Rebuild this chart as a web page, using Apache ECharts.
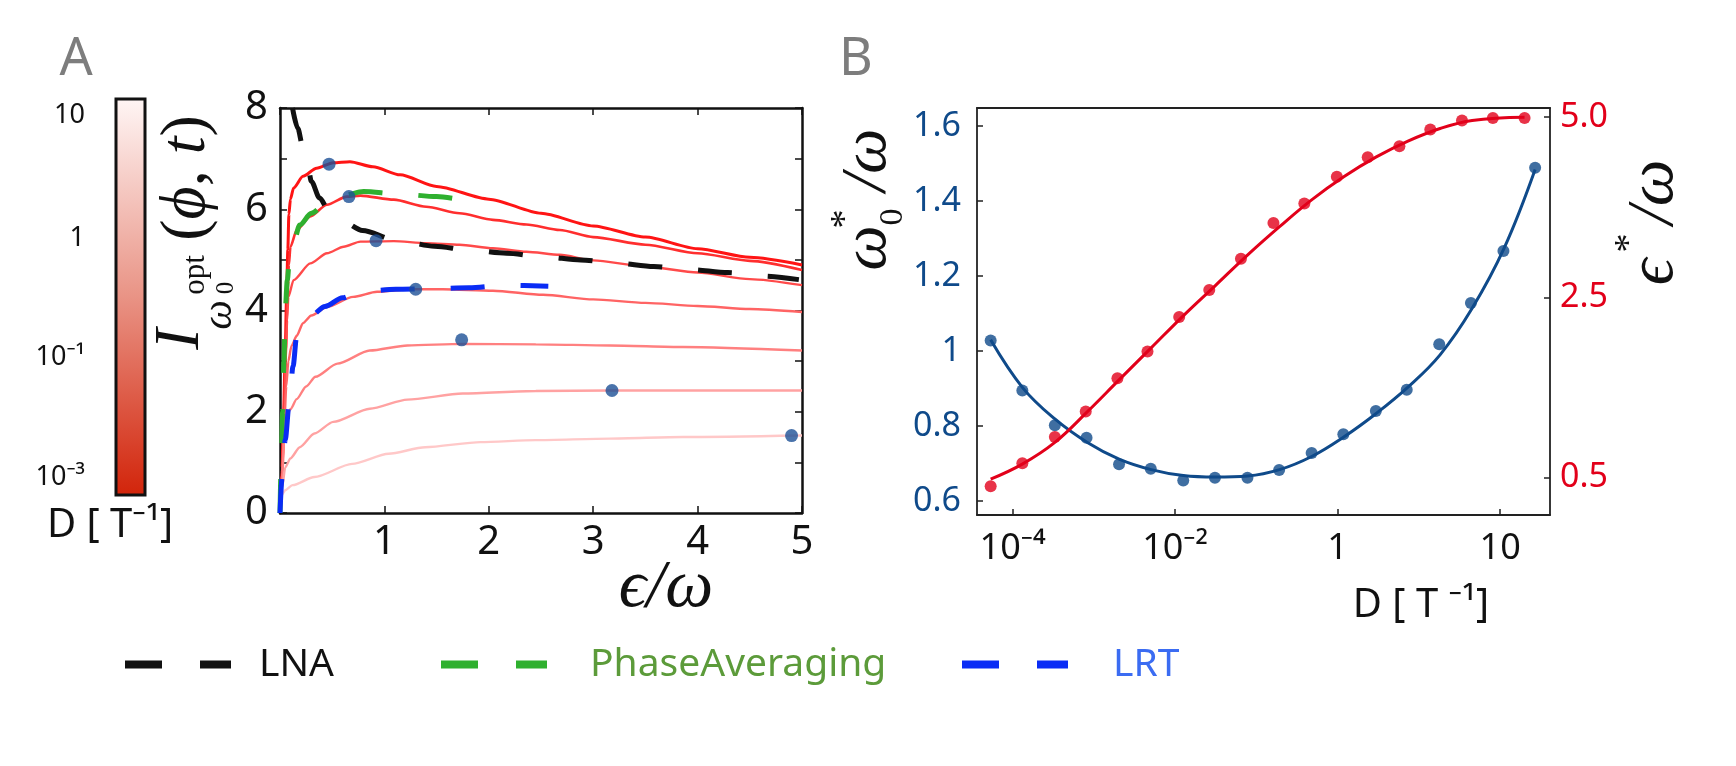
<!DOCTYPE html>
<html>
<head>
<meta charset="utf-8">
<script src="https://cdn.jsdelivr.net/npm/echarts@6/dist/echarts.min.js"></script>
<style>
  html, body { margin: 0; padding: 0; background: #fff; }
  #chart { width: 1736px; height: 766px; }
</style>
</head>
<body>
<div id="chart"></div>
<script>
// ---- panel A : I(phi,t) against eps/omega, one curve per noise level D ----
const curve1 = [[0,0],[0.02,0.9],[0.035,2.0],[0.05,3.2],[0.062,4.2],[0.075,5.2],[0.085,5.9],[0.1,6.2],[0.13,6.42],[0.22,6.65],[0.35,6.81],[0.51,6.92],[0.67,6.94],[0.89,6.84],[1.15,6.68],[1.5,6.45],[2.0,6.2],[2.5,5.92],[3.0,5.67],[3.5,5.45],[4.0,5.22],[4.5,5.05],[5.0,4.9]];
const curve2 = [[0,0],[0.02,0.8],[0.04,2.0],[0.055,3.2],[0.07,4.2],[0.085,4.9],[0.1,5.26],[0.16,5.59],[0.29,5.86],[0.45,6.09],[0.64,6.25],[0.77,6.27],[1.09,6.19],[1.4,6.05],[1.72,5.92],[2.04,5.79],[2.36,5.7],[2.68,5.59],[3.0,5.45],[3.5,5.3],[4.0,5.13],[4.5,4.98],[5.0,4.8]];
const curve3 = [[0,0],[0.02,0.8],[0.04,1.9],[0.055,3.0],[0.068,3.8],[0.08,4.27],[0.13,4.6],[0.29,4.93],[0.45,5.13],[0.61,5.26],[0.77,5.36],[1.09,5.37],[1.4,5.33],[1.72,5.3],[2.04,5.23],[2.36,5.16],[2.68,5.1],[3.0,4.99],[3.5,4.87],[4.0,4.75],[4.5,4.62],[5.0,4.5]];
const curve4 = [[0,0],[0.02,0.8],[0.04,1.7],[0.06,2.5],[0.08,3.0],[0.11,3.3],[0.16,3.5],[0.22,3.75],[0.3,3.9],[0.45,4.07],[0.7,4.27],[0.93,4.37],[1.25,4.42],[1.56,4.42],[2.04,4.39],[2.52,4.31],[3.0,4.22],[3.5,4.15],[4.0,4.09],[4.5,4.03],[5.0,3.97]];
const curve5 = [[0,0],[0.02,0.7],[0.05,1.85],[0.1,2.05],[0.16,2.25],[0.25,2.5],[0.34,2.69],[0.55,2.95],[0.86,3.21],[1.22,3.31],[1.75,3.34],[2.45,3.33],[3.16,3.31],[3.86,3.28],[5.0,3.21]];
const curve6 = [[0,0],[0.02,0.5],[0.05,0.9],[0.1,1.08],[0.19,1.3],[0.33,1.57],[0.51,1.8],[0.86,2.06],[1.22,2.24],[1.75,2.36],[2.45,2.41],[3.16,2.42],[3.86,2.42],[5.0,2.42]];
const curve7 = [[0,0],[0.015,0.35],[0.05,0.45],[0.12,0.55],[0.33,0.71],[0.69,0.97],[1.04,1.17],[1.39,1.3],[1.92,1.4],[2.45,1.44],[3.16,1.47],[3.86,1.5],[5.0,1.53]];
const optimumDots = [[0.47,6.89],[0.66,6.25],[0.92,5.38],[1.3,4.42],[1.74,3.42],[3.18,2.42],[4.9,1.53]];

const lnaCurve = [[0.12,8.0],[0.17,7.6],[0.22,7.22],[0.27,6.82],[0.3,6.55],[0.38,6.22],[0.47,5.96],[0.6,5.76],[0.79,5.58],[1.11,5.39],[1.48,5.27],[1.82,5.19],[2.17,5.13],[2.52,5.06],[2.88,5.0],[3.21,4.94],[3.58,4.87],[3.92,4.81],[4.29,4.75],[4.62,4.68],[4.97,4.61]];
const phaseAvgCurve = [[0,0],[0.012,1.0],[0.025,2.0],[0.038,3.0],[0.05,4.0],[0.07,4.6],[0.09,5.0],[0.13,5.35],[0.19,5.69],[0.3,5.92],[0.46,6.15],[0.6,6.27],[0.8,6.35],[1.14,6.3],[1.5,6.25],[1.85,6.14]];
const lrtCurve = [[0,0],[0.02,0.7],[0.05,1.45],[0.09,2.2],[0.125,2.9],[0.16,3.5],[0.22,3.75],[0.3,3.9],[0.43,4.08],[0.6,4.25],[0.75,4.37],[1.11,4.42],[1.45,4.43],[1.81,4.45],[2.16,4.5],[2.57,4.48]];

const epsTicksA = [0, 1, 2, 3, 4, 5];
const colorbarLabels = ['10', '1', '10⁻¹', '10⁻³'];

// ---- panel B : optimum omega0* and eps* against D ----
// x is the position on the printed D axis (ticks 10^-4, 10^-2, 1, 10 are evenly spaced)
const dTickPos = [-4, -2, 0, 2];
const dTickLabels = ['10⁻⁴', '10⁻²', '1', '10'];
const omegaTicks = [0.6, 0.8, 1.0, 1.2, 1.4, 1.6];
// right axis: evenly spaced printed ticks 0.5, 2.5, 5.0 at positions 0, 1, 2
const epsTickPos = [0, 1, 2];
const epsTickLabels = ['0.5', '2.5', '5.0'];

const omegaDotD = [-4.27,-3.88,-3.48,-3.09,-2.69,-2.30,-1.90,-1.51,-1.11,-0.72,-0.32,0.07,0.47,0.85,1.25,1.64,2.04,2.43];
const omegaDots = [1.028,0.895,0.802,0.769,0.698,0.686,0.655,0.662,0.662,0.683,0.728,0.778,0.840,0.897,1.018,1.128,1.267,1.489];
const omegaFitD = [-4.27,-3.875,-3.48,-3.085,-2.69,-2.295,-1.90,-1.505,-1.11,-0.715,-0.32,0.075,0.47,0.865,1.26,1.655,2.05,2.43];
const omegaFit = [1.030,0.902,0.819,0.757,0.712,0.684,0.668,0.664,0.667,0.684,0.719,0.771,0.833,0.904,0.990,1.114,1.275,1.484];

const epsDotD = [-4.27,-3.88,-3.48,-3.10,-2.71,-2.34,-1.95,-1.58,-1.19,-0.79,-0.41,-0.01,0.37,0.76,1.14,1.53,1.91,2.30];
const epsDots = [-0.05,0.079,0.224,0.366,0.55,0.699,0.891,1.04,1.214,1.412,1.521,1.669,1.778,1.838,1.931,1.982,1.996,1.996];
const epsFitD = [-4.27,-3.875,-3.48,-3.085,-2.69,-2.295,-1.90,-1.505,-1.11,-0.715,-0.32,0.075,0.47,0.865,1.26,1.655,2.30];
const epsFit = [-0.010,0.075,0.194,0.362,0.541,0.719,0.897,1.065,1.234,1.392,1.541,1.669,1.778,1.867,1.937,1.982,2.0];

const pairs = (xs, ys) => xs.map((x, i) => [x, ys[i]]);

const SANS = '"Noto Sans", "Open Sans", sans-serif';
const SERIF = '"Liberation Serif", "DejaVu Serif", serif';
const INK = '#111';
const BLUE_B = '#0f4a8a';
const RED_B = '#e2001a';

const redColors = ['#ff1414', '#ff2e2e', '#ff4a4a', '#ff6464', '#ff8080', '#ffa2a2', '#ffc8c8'];
const redWidths = [3, 2.6, 2.4, 2.4, 2.4, 2.4, 2.4];
const redCurves = [curve1, curve2, curve3, curve4, curve5, curve6, curve7];

function txt(x, y, text, size, color, o = {}) {
  return {
    type: 'text', x, y, rotation: o.rot || 0, z: 20,
    style: {
      text, fill: color,
      font: (o.italic ? 'italic ' : '') + size + 'px ' + (o.family || SANS),
      align: o.align || 'center', verticalAlign: 'middle',
      textAlign: o.align || 'center', textVerticalAlign: 'middle',
      rich: o.rich
    }
  };
}
const V = Math.PI / 2;

const chart = echarts.init(document.getElementById('chart'));

const frameA = { show: true, onZero: false, lineStyle: { color: INK, width: 2.5 } };
const tickA = { show: true, inside: true, length: 7, lineStyle: { color: INK, width: 1.5 } };
const frameB = { show: true, onZero: false, lineStyle: { color: '#222', width: 1.8 } };
const tickB = { show: true, inside: true, length: 6, lineStyle: { color: '#222', width: 1.5 } };

const series = [];
redCurves.forEach((c, i) => {
  series.push({
    type: 'line', xAxisIndex: 0, yAxisIndex: 0, data: c, showSymbol: false,
    smooth: 0.25, smoothMonotone: 'x', z: 2, silent: true,
    lineStyle: { color: redColors[i], width: redWidths[i] }
  });
});
const dashed = (name, data, color) => ({
  name, type: 'line', xAxisIndex: 0, yAxisIndex: 0, data, showSymbol: false,
  smooth: 0.3, smoothMonotone: 'x', z: 3, color,
  lineStyle: { color, width: 5, type: [34, 36], cap: 'butt' }
});
series.push(dashed('LNA', lnaCurve, '#111111'));
series.push(dashed('PhaseAveraging', phaseAvgCurve, '#2fb02f'));
series.push(dashed('LRT', lrtCurve, '#0a2cf5'));
series.push({
  type: 'scatter', xAxisIndex: 0, yAxisIndex: 0, data: optimumDots,
  symbolSize: 13, z: 5, itemStyle: { color: '#1d5096' }
});
// panel B
series.push({
  type: 'line', xAxisIndex: 2, yAxisIndex: 2, data: pairs(omegaFitD, omegaFit),
  showSymbol: false, smooth: 0.4, z: 3, lineStyle: { color: BLUE_B, width: 3 }
});
series.push({
  type: 'scatter', xAxisIndex: 2, yAxisIndex: 2, data: pairs(omegaDotD, omegaDots),
  symbolSize: 12, z: 4, itemStyle: { color: BLUE_B }
});
series.push({
  type: 'line', xAxisIndex: 2, yAxisIndex: 3, data: pairs(epsFitD, epsFit),
  showSymbol: false, smooth: 0.4, z: 3, lineStyle: { color: RED_B, width: 3 }
});
series.push({
  type: 'scatter', xAxisIndex: 2, yAxisIndex: 3, data: pairs(epsDotD, epsDots),
  symbolSize: 12, z: 4, itemStyle: { color: RED_B }
});

const legendIcon = 'path://M0,0H37V8H0Z M75,0H106V8H75Z';
const legendItem = (name, color, left, gap) => ({
  data: [{ name, textStyle: { color } }],
  left, top: 640, icon: legendIcon, itemWidth: 106, itemHeight: 8,
  selectedMode: false,
  textStyle: { fontSize: 39, fontFamily: SANS, padding: [0, 0, 0, gap] }
});

const cbLabelY = [115, 238, 357, 477];

chart.setOption({
  animation: false,
  grid: [
    { left: 280, top: 108, width: 522, height: 405 },
    { left: 977, top: 108, width: 573, height: 407 }
  ],
  xAxis: [
    {
      gridIndex: 0, type: 'value', min: 0, max: 5, interval: 1, position: 'bottom',
      axisLine: frameA, axisTick: tickA, splitLine: { show: false },
      axisLabel: { formatter: v => (v === epsTicksA[0] ? '' : String(v)), fontSize: 40, fontFamily: SANS, color: INK, margin: 10 }
    },
    {
      gridIndex: 0, type: 'value', min: 0, max: 5, interval: 1, position: 'top',
      axisLine: frameA, axisTick: tickA, splitLine: { show: false }, axisLabel: { show: false }
    },
    {
      gridIndex: 1, type: 'value', min: -4.438, max: 2.613, position: 'bottom',
      axisLine: frameB, splitLine: { show: false },
      axisTick: Object.assign({ customValues: dTickPos }, tickB),
      axisLabel: {
        customValues: dTickPos, formatter: v => dTickLabels[dTickPos.indexOf(v)],
        fontSize: 36, fontFamily: SANS, color: INK, margin: 16
      }
    },
    {
      gridIndex: 1, type: 'value', min: -4.438, max: 2.613, position: 'top',
      axisLine: frameB, axisTick: { show: false }, axisLabel: { show: false }, splitLine: { show: false }
    }
  ],
  yAxis: [
    {
      gridIndex: 0, type: 'value', min: 0, max: 8, interval: 1, position: 'left',
      axisLine: frameA, axisTick: tickA, splitLine: { show: false },
      axisLabel: { formatter: v => (v % 2 === 0 ? String(v) : ''), fontSize: 40, fontFamily: SANS, color: INK, margin: 12 }
    },
    {
      gridIndex: 0, type: 'value', min: 0, max: 8, interval: 1, position: 'right',
      axisLine: frameA, axisTick: tickA, splitLine: { show: false }, axisLabel: { show: false }
    },
    {
      gridIndex: 1, type: 'value', min: 0.563, max: 1.648, position: 'left',
      axisLine: frameB, splitLine: { show: false },
      axisTick: Object.assign({ customValues: omegaTicks }, tickB),
      axisLabel: {
        customValues: omegaTicks, formatter: v => (v === 1 ? '1' : v.toFixed(1)),
        fontSize: 34, fontFamily: SANS, color: BLUE_B, margin: 16
      }
    },
    {
      gridIndex: 1, type: 'value', min: -0.209, max: 2.051, position: 'right',
      axisLine: frameB, splitLine: { show: false },
      axisTick: Object.assign({ customValues: epsTickPos }, tickB),
      axisLabel: {
        customValues: epsTickPos, formatter: v => epsTickLabels[epsTickPos.indexOf(v)],
        fontSize: 34, fontFamily: SANS, color: RED_B, margin: 10
      }
    }
  ],
  legend: [
    legendItem('LNA', '#111111', 120, 23),
    legendItem('PhaseAveraging', '#5c9b3a', 436, 38),
    legendItem('LRT', '#3b6cf2', 957, 40)
  ],
  series,
  graphic: [
    txt(76, 60, 'A', 52, '#7d7d7d'),
    txt(856, 60, 'B', 52, '#7d7d7d'),
    // colour bar for D
    {
      type: 'rect', z: 20,
      shape: { x: 116, y: 99, width: 29, height: 396 },
      style: {
        fill: new echarts.graphic.LinearGradient(0, 0, 0, 1, [
          { offset: 0, color: '#fff6f5' },
          { offset: 0.5, color: '#e99385' },
          { offset: 1, color: '#d2240a' }
        ]),
        stroke: INK, lineWidth: 3
      }
    },
    ...colorbarLabels.map((t, i) => txt(85, cbLabelY[i], t, 27, INK, { align: 'right' })),
    txt(110, 526, 'D [ T⁻¹]', 40, INK),
    // y title of panel A
    txt(181, 339, 'I', 64, INK, { rot: V, italic: true, family: SERIF }),
    txt(196, 275, 'opt', 31, INK, { rot: V, family: SERIF }),
    txt(220, 315, 'ω', 42, INK, { rot: V, italic: true, family: SERIF }),
    txt(226, 288, '0', 25, INK, { rot: V, family: SERIF }),
    txt(187, 178, '{n|(}{i|ϕ}{n|, }{i|t}{n|)}', 64, INK, {
      rot: V, family: SERIF,
      rich: {
        n: { fontSize: 64, fontFamily: SERIF, fontStyle: 'normal', fill: INK },
        i: { fontSize: 64, fontFamily: SERIF, fontStyle: 'italic', fill: INK }
      }
    }),
    // x title of panel A
    txt(666, 588, 'ϵ/ω', 68, INK, { italic: true, family: SERIF }),
    // axis titles of panel B
    txt(868, 248, 'ω', 64, INK, { rot: V, italic: true, family: SERIF }),
    txt(893, 217, '0', 34, INK, { rot: V, family: SERIF }),
    txt(846, 219, '*', 38, INK, { rot: V, family: SERIF }),
    txt(868, 160, '/ω', 64, INK, { rot: V, italic: true, family: SERIF }),
    txt(1655, 272, 'ϵ', 66, INK, { rot: V, italic: true, family: SERIF }),
    txt(1630, 243, '*', 38, INK, { rot: V, family: SERIF }),
    txt(1655, 192, '/ω', 66, INK, { rot: V, italic: true, family: SERIF }),
    txt(1421, 606, 'D [ T ⁻¹]', 40, INK)
  ]
});
</script>
</body>
</html>
